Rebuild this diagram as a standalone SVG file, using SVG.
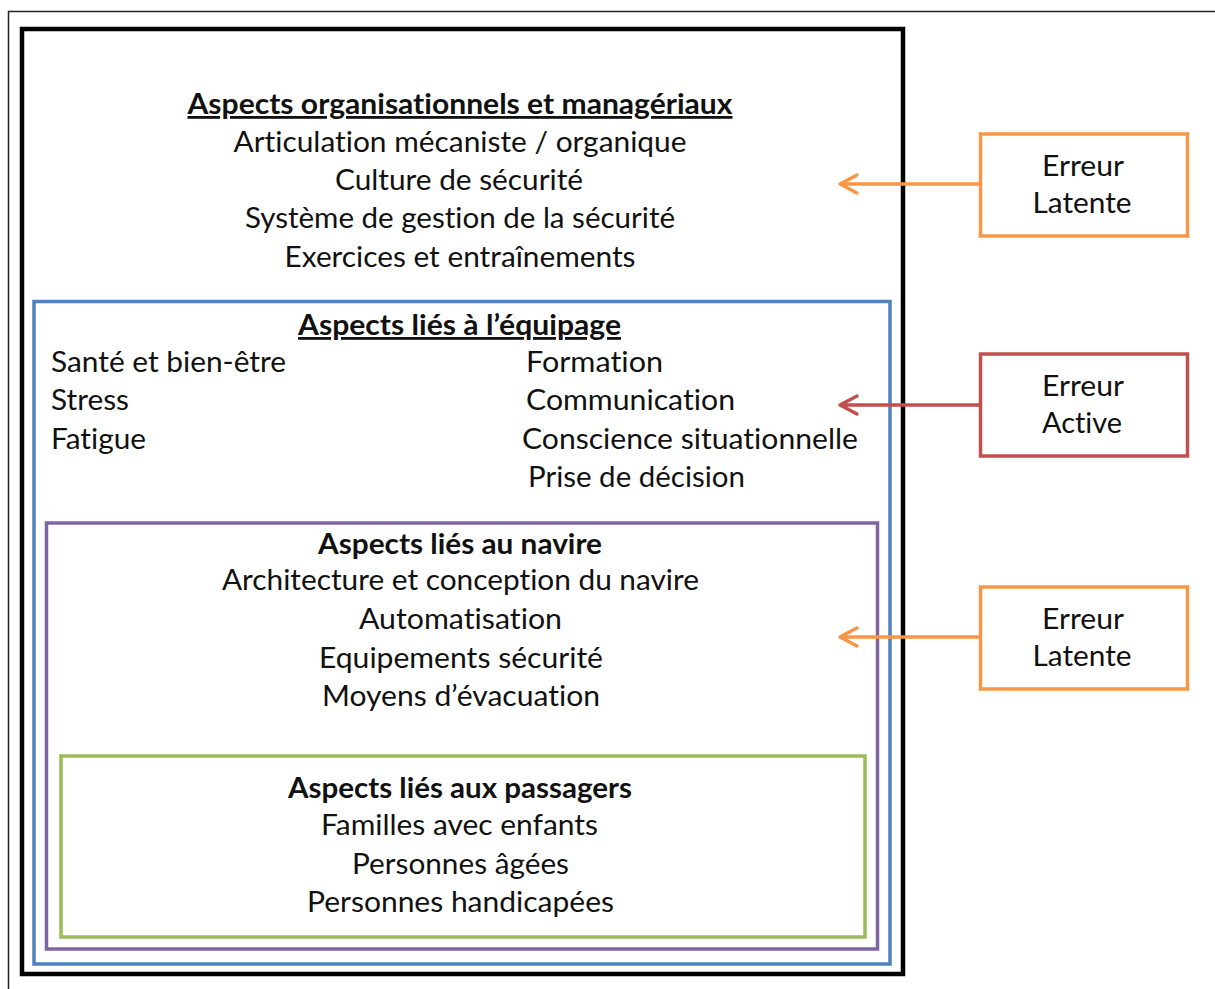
<svg xmlns="http://www.w3.org/2000/svg" width="1215" height="989" viewBox="0 0 1215 989">
<style>
text{font-family:Lato,"Open Sans","Liberation Sans",sans-serif;font-size:28px;fill:#111;font-variant-ligatures:none;}
.b{font-weight:bold;}
.m{text-anchor:middle;}
.box{fill:none;}
.conn{stroke-width:3.5;fill:none;}
</style>
<rect width="1215" height="989" fill="#fff"/>
<path d="M8.5,989 V11.5 H1215" fill="none" stroke="#222" stroke-width="1.5"/>
<g id="org">
<rect class="box" x="22" y="29" width="881" height="945" stroke="#000" stroke-width="4.5"/>
<text class="b m" x="460" y="114" text-decoration="underline" textLength="545" lengthAdjust="spacingAndGlyphs">Aspects organisationnels et managériaux</text>
<text class="m" x="460" y="152" textLength="453" lengthAdjust="spacingAndGlyphs">Articulation mécaniste / organique</text>
<text class="m" x="459" y="190" textLength="248" lengthAdjust="spacingAndGlyphs">Culture de sécurité</text>
<text class="m" x="460" y="228" textLength="430" lengthAdjust="spacingAndGlyphs">Système de gestion de la sécurité</text>
<text class="m" x="460" y="267" textLength="351" lengthAdjust="spacingAndGlyphs">Exercices et entraînements</text>
</g>
<g id="equipage">
<rect class="box" x="34" y="301.5" width="856" height="662.5" stroke="#4F81BD" stroke-width="3.5"/>
<text class="b m" x="459.5" y="335" text-decoration="underline" textLength="323" lengthAdjust="spacingAndGlyphs">Aspects liés à l’équipage</text>
<text x="51" y="372" textLength="235" lengthAdjust="spacingAndGlyphs">Santé et bien-être</text>
<text x="51" y="410" textLength="78" lengthAdjust="spacingAndGlyphs">Stress</text>
<text x="51" y="449" textLength="95" lengthAdjust="spacingAndGlyphs">Fatigue</text>
<text x="526" y="372" textLength="137" lengthAdjust="spacingAndGlyphs">Formation</text>
<text x="526" y="410" textLength="209" lengthAdjust="spacingAndGlyphs">Communication</text>
<text x="522" y="449" textLength="336" lengthAdjust="spacingAndGlyphs">Conscience situationnelle</text>
<text x="528" y="487" textLength="217" lengthAdjust="spacingAndGlyphs">Prise de décision</text>
</g>
<g id="navire">
<rect class="box" x="46.5" y="523" width="831" height="426" stroke="#8064A2" stroke-width="3.5"/>
<text class="b m" x="460" y="554" textLength="284" lengthAdjust="spacingAndGlyphs">Aspects liés au navire</text>
<text class="m" x="460.5" y="590" textLength="477" lengthAdjust="spacingAndGlyphs">Architecture et conception du navire</text>
<text class="m" x="460.5" y="629" textLength="203" lengthAdjust="spacingAndGlyphs">Automatisation</text>
<text class="m" x="461" y="668" textLength="284" lengthAdjust="spacingAndGlyphs">Equipements sécurité</text>
<text class="m" x="461" y="706" textLength="278" lengthAdjust="spacingAndGlyphs">Moyens d’évacuation</text>
</g>
<g id="passagers">
<rect class="box" x="61" y="756" width="804" height="181" stroke="#9BBB59" stroke-width="3.5"/>
<text class="b m" x="460" y="798" textLength="344" lengthAdjust="spacingAndGlyphs">Aspects liés aux passagers</text>
<text class="m" x="459.5" y="835" textLength="277" lengthAdjust="spacingAndGlyphs">Familles avec enfants</text>
<text class="m" x="460.5" y="874" textLength="217" lengthAdjust="spacingAndGlyphs">Personnes âgées</text>
<text class="m" x="460.5" y="912" textLength="307" lengthAdjust="spacingAndGlyphs">Personnes handicapées</text>
</g>
<g id="erreur-latente-1">
<rect class="box" x="980.5" y="134" width="207" height="102" stroke="#F79646" stroke-width="3.5"/>
<text class="m" x="1083" y="176" textLength="82" lengthAdjust="spacingAndGlyphs">Erreur</text>
<text class="m" x="1082" y="213" textLength="99" lengthAdjust="spacingAndGlyphs">Latente</text>
</g>
<g id="erreur-active">
<rect class="box" x="980.5" y="354" width="207" height="102" stroke="#C0504D" stroke-width="3.5"/>
<text class="m" x="1083" y="396" textLength="82" lengthAdjust="spacingAndGlyphs">Erreur</text>
<text class="m" x="1082" y="433" textLength="80" lengthAdjust="spacingAndGlyphs">Active</text>
</g>
<g id="erreur-latente-2">
<rect class="box" x="980.5" y="587" width="207" height="102" stroke="#F79646" stroke-width="3.5"/>
<text class="m" x="1083" y="629" textLength="82" lengthAdjust="spacingAndGlyphs">Erreur</text>
<text class="m" x="1082" y="666" textLength="99" lengthAdjust="spacingAndGlyphs">Latente</text>
</g>
<g id="connectors" stroke-linecap="round" stroke-linejoin="round">
<path class="conn" stroke="#F79646" d="M979,184 H840 M857,175 L840,184 L857,193"/>
<path class="conn" stroke="#C0504D" d="M979,405 H840 M857,396 L840,405 L857,414"/>
<path class="conn" stroke="#F79646" d="M979,637 H840 M857,628 L840,637 L857,646"/>
</g>
</svg>
